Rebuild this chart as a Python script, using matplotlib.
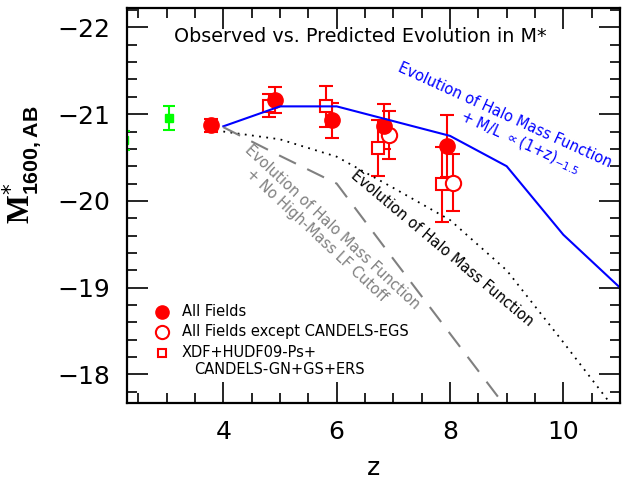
import matplotlib
matplotlib.use('Agg')
import matplotlib.pyplot as plt
from matplotlib.ticker import MultipleLocator

plt.rcParams['font.family'] = ['DejaVu Sans']
plt.rcParams['mathtext.fontset'] = 'custom'
plt.rcParams['mathtext.rm'] = 'DejaVu Sans'
plt.rcParams['mathtext.it'] = 'DejaVu Sans:italic'
plt.rcParams['mathtext.bf'] = 'Liberation Serif:bold'
plt.rcParams['mathtext.sf'] = 'Liberation Sans:bold'

# All Fields
z_all = [3.78, 4.91, 5.92, 6.83, 7.95]
m_all = [-20.87, -21.16, -20.93, -20.86, -20.63]
e_all = [0.08, 0.15, 0.20, 0.26, 0.36]

# All Fields except CANDELS-EGS
z_noegs = [6.93, 8.05]
m_noegs = [-20.76, -20.21]
e_noegs = [0.28, 0.33]

# XDF+HUDF09-Ps+CANDELS-GN+GS+ERS
z_xdf = [4.80, 5.82, 6.73, 7.85]
m_xdf = [-21.10, -21.09, -20.61, -20.19]
e_xdf = [0.13, 0.24, 0.32, 0.43]

# lower redshift points (green)
z_low = [2.25, 3.04]
m_low = [-20.70, -20.96]
e_low = [0.11, 0.14]

# model predictions
z_mod = [4, 5, 6, 7, 8, 9, 10, 11]
m_hmf_ml = [-20.86, -21.09, -21.09, -20.92, -20.75, -20.40, -19.61, -19.00]
m_hmf = [-20.80, -20.71, -20.51, -20.15, -19.78, -19.20, -18.37, -17.52]
z_nocut = [4, 5, 6, 7, 8, 9]
m_hmf_nocut = [-20.85, -20.52, -20.20, -19.33, -18.47, -17.61]

fig = plt.figure(figsize=(6.26, 4.8), dpi=100)
ax = fig.add_axes([127 / 626, 1 - 403 / 480, 493 / 626, 395.5 / 480])

red = '#ff0000'
ax.plot(z_mod, m_hmf_ml, color='#0000ff', lw=1.5, zorder=3)
ax.plot(z_mod, m_hmf, color='black', lw=1.3, ls=(0, (1, 3)), zorder=3)
ax.plot(z_nocut, m_hmf_nocut, color='#808080', lw=1.5, ls=(0, (9, 6)), zorder=3)

eb = dict(capsize=5, elinewidth=1.5, capthick=1.5, ls='none', zorder=2)
ax.errorbar(z_xdf, m_xdf, yerr=e_xdf, fmt='s', ms=8, mfc='white', mec=red,
            mew=1.5, color=red, **eb)
ax.errorbar(z_noegs, m_noegs, yerr=e_noegs, fmt='o', ms=11, mfc='white',
            mec=red, mew=1.5, color=red, **eb)
ax.errorbar(z_all, m_all, yerr=e_all, fmt='o', ms=11, color=red, **eb)
ax.errorbar(z_low, m_low, yerr=e_low, fmt='s', ms=6, color='#00ff00',
            capsize=4.5, elinewidth=1.5, capthick=1.5, ls='none', zorder=2)

ax.set_xlim(2.3, 11.0)
ax.set_ylim(-17.67, -22.23)
ax.xaxis.set_major_locator(MultipleLocator(2))
ax.xaxis.set_minor_locator(MultipleLocator(0.5))
ax.yaxis.set_major_locator(MultipleLocator(1))
ax.yaxis.set_minor_locator(MultipleLocator(0.2))
ax.tick_params(which='both', direction='in', top=True, right=True, width=1.2)
ax.tick_params(which='major', length=15, labelsize=18, pad=12)
ax.tick_params(which='minor', length=7)
for sp in ax.spines.values():
    sp.set_linewidth(1.6)
    sp.set_zorder(5)

ax.set_xlabel('z', fontsize=18, labelpad=9)
fig.text(22 / 626, 1 - 165 / 480, r'$\mathbf{M}^{*}_{\mathsf{1600,AB}}$',
         rotation=90, ha='center', va='center', fontsize=22)

ax.text(0.473, 0.913, 'Observed vs. Predicted Evolution in M*', transform=ax.transAxes,
        ha='center', va='baseline', fontsize=13.8)

ax.text(7.06, -21.50, 'Evolution of Halo Mass Function', color='#0000ff',
        rotation=-24.5, rotation_mode='anchor', ha='left', va='baseline', fontsize=10.5)
ax.text(8.15, -20.94, r'+ M/L $\propto$(1+z)$_{-1.5}$', color='#0000ff',
        rotation=-24.5, rotation_mode='anchor', ha='left', va='baseline', fontsize=10.5)
ax.text(6.23, -20.27, 'Evolution of Halo Mass Function', color='black',
        rotation=-40, rotation_mode='anchor', ha='left', va='baseline', fontsize=10.5)
ax.text(4.36, -20.58, 'Evolution of Halo Mass Function', color='#808080',
        rotation=-43, rotation_mode='anchor', ha='left', va='baseline', fontsize=10.5)
ax.text(4.38, -20.30, '+ No High-Mass LF Cutoff', color='#808080',
        rotation=-43, rotation_mode='anchor', ha='left', va='baseline', fontsize=10.5)

# legend drawn by hand
tr = ax.transAxes
ax.plot([0.0704], [0.2308], 'o', ms=9.5, color=red, transform=tr)
ax.plot([0.0704], [0.1803], 'o', ms=9.5, mfc='none', mec=red, mew=1.5, transform=tr)
ax.plot([0.0704], [0.1272], 's', ms=6, mfc='none', mec=red, mew=1.5, transform=tr)
ax.text(0.111, 0.2308, 'All Fields', transform=tr, va='center', fontsize=10.5)
ax.text(0.111, 0.1803, 'All Fields except CANDELS-EGS', transform=tr, va='center', fontsize=10.5)
ax.text(0.111, 0.1272, 'XDF+HUDF09-Ps+', transform=tr, va='center', fontsize=10.5)
ax.text(0.136, 0.0852, 'CANDELS-GN+GS+ERS', transform=tr, va='center', fontsize=10.5)

fig.savefig('out.png', dpi=100)
